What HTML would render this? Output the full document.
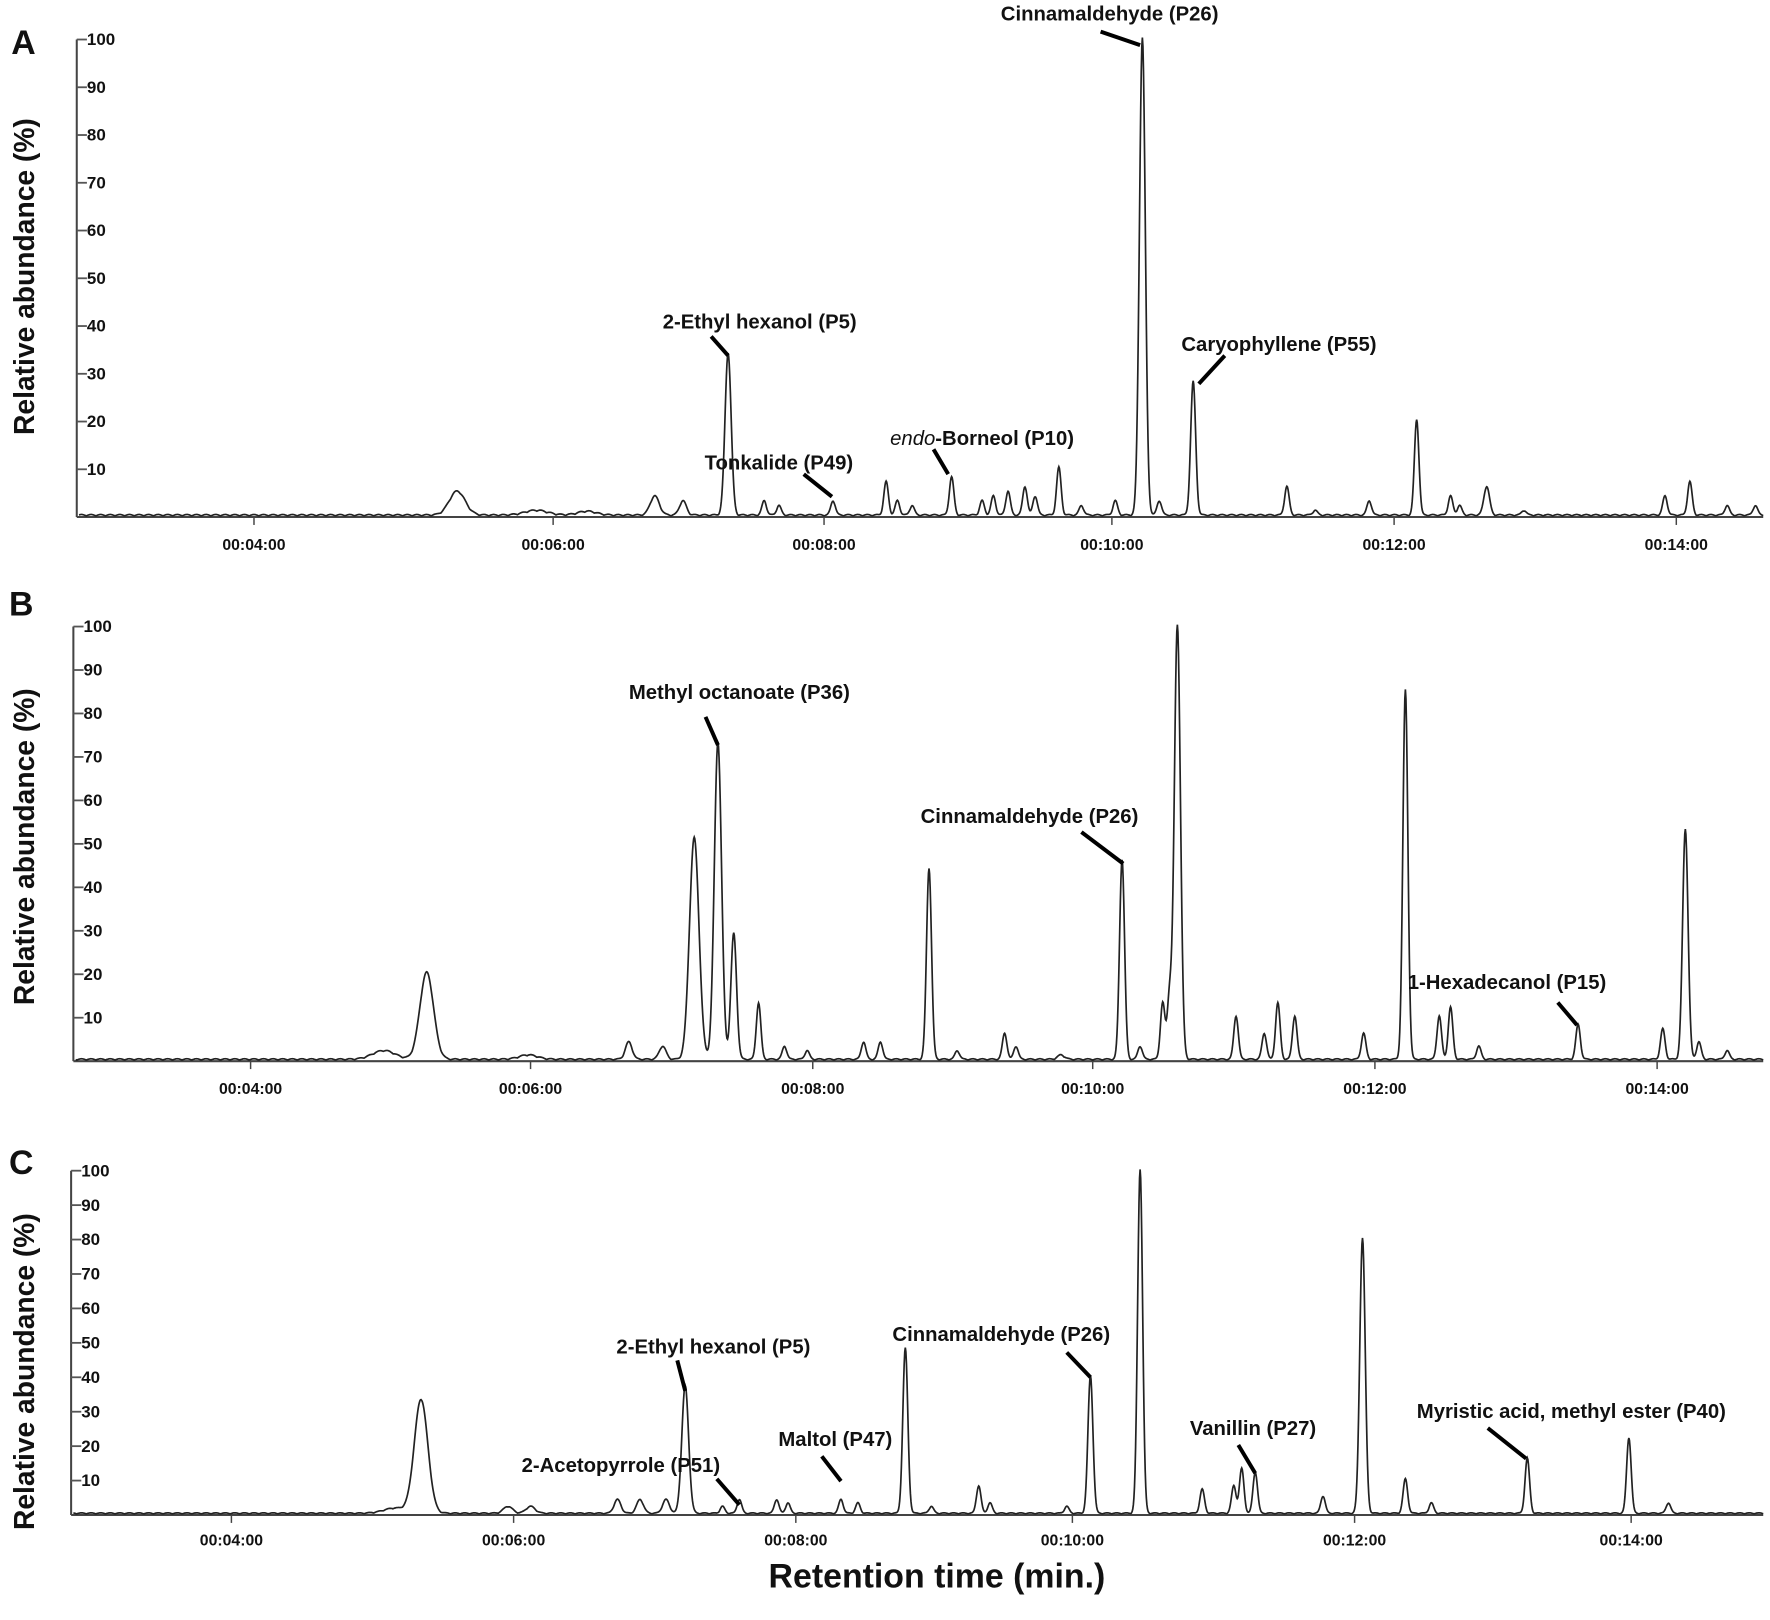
<!DOCTYPE html>
<html><head><meta charset="utf-8"><style>
html,body{margin:0;padding:0;background:#fff}
svg{display:block}
text{font-family:"Liberation Sans",Arial,sans-serif;fill:#111}
</style></head><body>
<svg id="s" width="1770" height="1620" viewBox="0 0 1568 1435" preserveAspectRatio="none" xmlns="http://www.w3.org/2000/svg">
<g font-weight="bold">
<text x="10" y="48" font-size="30">A</text>
<text x="8" y="545" font-size="30">B</text>
<text x="8" y="1040" font-size="30">C</text>
<text transform="translate(30,245) rotate(-90)" text-anchor="middle" font-size="25">Relative abundance (%)</text>
<text transform="translate(30,750) rotate(-90)" text-anchor="middle" font-size="25">Relative abundance (%)</text>
<text transform="translate(30,1215) rotate(-90)" text-anchor="middle" font-size="25">Relative abundance (%)</text>
<text x="830" y="1406" text-anchor="middle" font-size="30">Retention time (min.)</text>
</g>
<g id="g"></g>
</svg>
<script>
var g=document.getElementById('g');var NS='http://www.w3.org/2000/svg';
function el(n,a,t){var e=document.createElementNS(NS,n);for(var k in a)e.setAttribute(k,a[k]);if(t!=null)e.textContent=t;g.appendChild(e);return e;}
var panels=[
{ax:68,y100:35,y0:458,ty:482,ticks:[225,490,730,985,1235,1485],
peaks:[[405,5,7],[475,1,10],[520,0.8,8],[580,4,4],[605,3,3],[645,34,2.7],[677,3,2],[690,2,2],[738,3,2],[785,7,2],[795,3,2],[808,2,2],[843,8,2],[870,3,2],[880,4,2],[893,5,2],[908,6,2],[917,4,2],[938,10,2],[958,2,2],[988,3,2],[1012,100,2.6],[1027,3,2],[1057,28,2.2],[1140,6,2],[1165,1,2],[1213,3,2],[1255,20,2],[1285,4,2],[1293,2,2],[1317,6,2.5],[1350,1,2],[1475,4,2],[1497,7,2],[1530,2,2],[1555,2,2]],
labels:[["Cinnamaldehyde (P26)",983,18,false,[975,28,1010,40]],["2-Ethyl hexanol (P5)",673,291,false,[630,298,645,315]],["Caryophyllene (P55)",1133,311,false,[1085,315,1062,340]],["endo",870,394,true,[827,398,840,420]],["Tonkalide (P49)",690,416,false,[712,420,737,440]]]},
{ax:65,y100:555,y0:940,ty:964,ticks:[222,470,720,968,1218,1468],
peaks:[[340,2,10],[378,20,6],[468,1,8],[557,4,3],[587,3,3],[615,51,4.2],[636,73,3.2],[650,29,2.5],[672,13,2],[695,3,2],[715,2,2],[765,4,2],[780,4,2],[823,44,2.2],[848,2,2],[890,6,2],[900,3,2],[940,1,3],[994,46,2.2],[1010,3,2],[1030,13,2],[1036,14,2],[1043,100,2.7],[1095,10,2],[1120,6,2],[1132,13,2],[1147,10,2],[1208,6,2],[1245,85,2.2],[1275,10,2],[1285,12,2],[1310,3,2],[1398,8,2],[1473,7,2],[1493,53,2.4],[1505,4,2],[1530,2,2]],
labels:[["Methyl octanoate (P36)",655,619,false,[625,635,636,660]],["Cinnamaldehyde (P26)",912,729,false,[958,737,995,765]],["1-Hexadecanol (P15)",1335,876,false,[1380,888,1397,908]]]},
{ax:63,y100:1037,y0:1342,ty:1364,ticks:[205,455,705,950,1200,1445],
peaks:[[350,1.5,10],[373,33,6],[450,2,4],[470,2,4],[547,4,3],[567,4,3],[590,4,3],[607,37,3],[640,2,2],[655,4,2],[688,4,2],[698,3,2],[745,4,2],[760,3,2],[802,48,2.2],[825,2,2],[867,8,2],[877,3,2],[945,2,2],[966,40,2.2],[1010,100,2.2],[1065,7,2],[1093,8,2],[1100,13,2],[1112,12,2],[1172,5,2],[1207,80,2.4],[1245,10,2],[1268,3,2],[1353,16,2],[1443,22,2],[1478,3,2]],
labels:[["Cinnamaldehyde (P26)",887,1188,false,[945,1198,966,1220]],["2-Ethyl hexanol (P5)",632,1199,false,[600,1205,607,1232]],["Vanillin (P27)",1110,1271,false,[1097,1280,1112,1305]],["Myristic acid, methyl ester (P40)",1392,1256,false,[1318,1265,1352,1292]],["Maltol (P47)",740,1281,false,[728,1290,745,1312]],["2-Acetopyrrole (P51)",550,1304,false,[635,1310,655,1333]]]}
];
panels.forEach(function(p){
 var per=(p.y0-p.y100)/100;
 el('line',{x1:p.ax,y1:p.y100,x2:p.ax,y2:p.y0,stroke:'#444','stroke-width':1.8});
 el('line',{x1:p.ax,y1:p.y0,x2:1562,y2:p.y0,stroke:'#444','stroke-width':1.8});
 for(var v=10;v<=100;v+=10){var y=p.y0-v*per;
  el('line',{x1:p.ax,y1:y,x2:p.ax+9,y2:y,stroke:'#555','stroke-width':1.6});
  el('text',{x:p.ax+9,y:y+5,'font-size':15,'font-weight':'bold'},String(v));}
 var tl=['00:04:00','00:06:00','00:08:00','00:10:00','00:12:00','00:14:00'];
 p.ticks.forEach(function(x,i){el('line',{x1:x,y1:p.y0,x2:x,y2:p.y0+7,stroke:'#444','stroke-width':1.3});
  el('text',{x:x,y:p.ty+5,'font-size':14,'font-weight':'bold','text-anchor':'middle'},tl[i]);});
 var d='';
 for(var x=p.ax+2;x<=1562;x+=0.5){var s=0;
  p.peaks.forEach(function(k){var z=(x-k[0])/k[2];if(Math.abs(z)<6)s+=k[1]*Math.exp(-z*z/2);});
  s+=0.3*Math.abs(Math.sin(x*0.37));
  var y=p.y0-1-s*per; d+=(d?'L':'M')+x.toFixed(1)+' '+y.toFixed(1);}
 el('path',{d:d,fill:'none',stroke:'#222','stroke-width':1.5});
 p.labels.forEach(function(l){
  if(l[3]){var t=el('text',{x:l[1],y:l[2],'font-size':18,'text-anchor':'middle'});
   var a=document.createElementNS(NS,'tspan');a.setAttribute('font-style','italic');a.textContent='endo';t.appendChild(a);
   var b=document.createElementNS(NS,'tspan');b.setAttribute('font-weight','bold');b.textContent='-Borneol (P10)';t.appendChild(b);
  }else el('text',{x:l[1],y:l[2],'font-size':18,'font-weight':'bold','text-anchor':'middle'},l[0]);
  var q=l[4];el('line',{x1:q[0],y1:q[1],x2:q[2],y2:q[3],stroke:'#000','stroke-width':3.5});
 });
});
</script>
</body></html>
